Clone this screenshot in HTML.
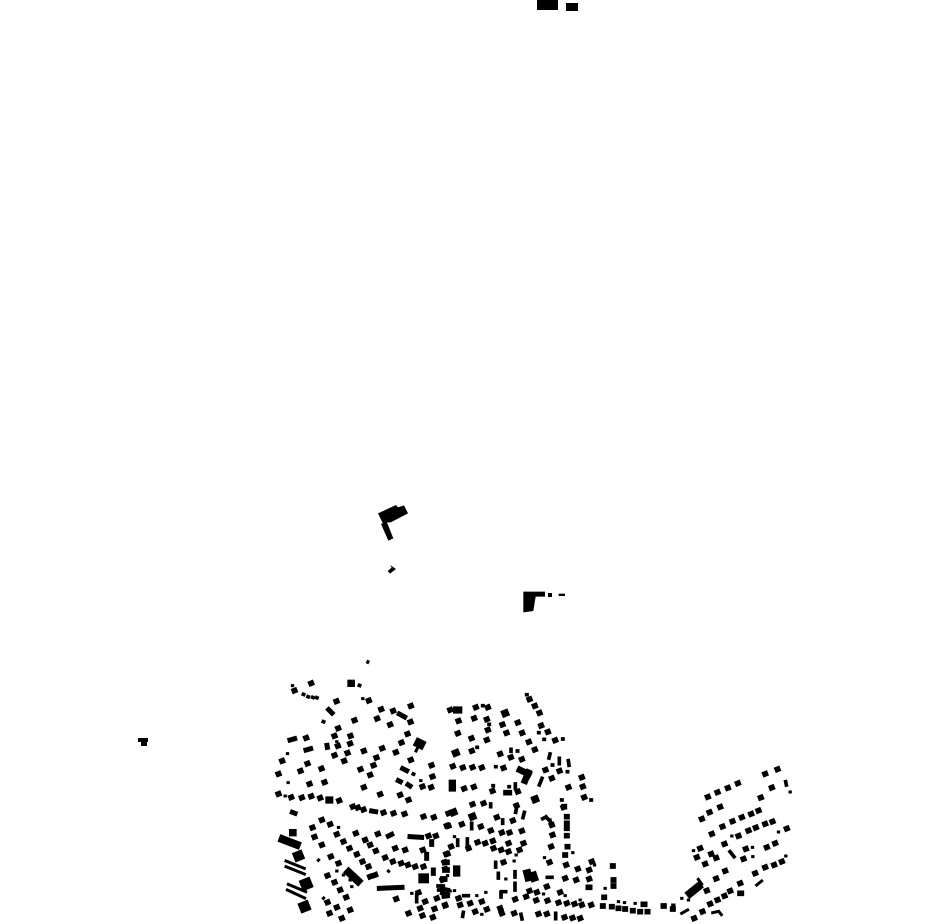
<!DOCTYPE html>
<html><head><meta charset="utf-8"><style>html,body{margin:0;padding:0;background:#fff;width:930px;height:924px;overflow:hidden}svg{display:block}path{fill:none;stroke:#000;stroke-linecap:square}.s{stroke-width:17}.t{stroke-width:9}.b{stroke-width:22}.e{stroke-width:15}.x{stroke-width:24}.l{stroke-width:11}</style></head><body>
<svg width="930" height="924" viewBox="0 0 930 924">
<rect x="537" y="0" width="21" height="10"/><rect x="566" y="3" width="12" height="8"/>
<path d="M138 740h10" style="stroke-width:4;stroke-linecap:butt"/><path d="M141 744h6" style="stroke-width:4;stroke-linecap:butt"/>
<g transform="translate(370 495) scale(.33333)">
<polygon points="24,55 78,30 84,37 102,31 114,55 62,82 52,82 40,88"/>
<polygon points="33,87 50,80 70,130 55,137"/>
<polygon points="53,228 65,218 60,210 78,222 60,236"/>
<polygon points="460,290 525,290 525,305 497,305 490,348 460,352"/>
<rect x="534" y="294" width="12" height="12"/><rect x="566" y="296" width="19" height="7"/>
</g>
<g transform="translate(270 650) scale(.33333)">
<path class="s" d="M123 100l1-.4M199 154l1-.4M253 211l1-.4M204 235l1-.4M193 258l1-.4M241 258l1-.4M240 281l1-.4M203 288l1-.4M232 309l1-.4M193 316l1-.4M222 333l1-.4M108 264l1-.4M36 333l1-.4M25 372l1-.4M91 363l1-.4M112 341l1-.4M154 356l1-.4M118 402l1-.4M163 397l1-.4M73 122l1-.4M296 152l1-.4M333 178l1-.4M369 183l1-.4M421 216l1-.4M321 206l1-.4M360 224l1-.4M422 168l1-.4M412 252l1-.4M394 278l1-.4M422 330l1-.4M484 346l1-.4M487 380l1-.4M457 410l1-.4M483 412l1-.4M336 295l1-.4M319 323l1-.4M310 346l1-.4M300 375l1-.4M281 303l1-.4M377 307l1-.4M271 358l1-.4M281 412l1-.4"/>
<path class="l" d="M100 133l1 .4M114 140l1 .4M128 142l1 .4M140 143l1 .4M160 215l1 .4M430 372l1 .4M268 106l1 .4"/>
<path class="t" d="M67 107h1M293 37l1-2M278 146h1M52 311h1M54 398h1M200 275h1M452 392h1"/>
<path class="b" d="M243 100h1"/>
<path class="e" d="M176 179l10 10M60 270l14-4M171 286l1 6M108 300l14-4M388 192l16 9M398 356l12 6M385 392l6 3M414 404l6 4"/>
<path class="x" d="M447 280l4 2" style="stroke-width:28"/>
<path class="t" d="M442 295l-4 8"/>
</g>
<g transform="translate(270 785) scale(.33333)">
<path class="s" d="M25 27l1-.4M63 37l1-.4M95 38l1-.4M123 34l1-.4M150 39l1-.4M207 47l1-.4M248 65l1-.4M263 68l1-.4M280 74l1-.4M340 83l1-.4M370 85l1-.4M403 87l1-.4M330 28l1-.4M390 30l1-.4M415 45l1-.4M460 95l1-.4M491 97l1-.4M535 85l1-.4M530 122l1-.4M155 105l1-.4M127 128l1-.4M180 118l1-.4M133 156l1-.4M155 180l1-.4M182 215l1-.4M205 235l1-.4M200 148l1-.4M220 170l1-.4M238 190l1-.4M260 208l1-.4M277 230l1-.4M295 245l1-.4M257 145l1-.4M285 165l1-.4M300 180l1-.4M317 198l1-.4M323 147l1-.4M475 153l1-.4M497 153l1-.4M375 190l1-.4M405 195l1-.4M345 218l1-.4M368 230l1-.4M393 235l1-.4M413 240l1-.4M435 245l1-.4M460 245l1-.4M458 195l1-.4M523 232l1-.4M525 252l1-.4M517 285l1-.4M528 207l1-.4M315 270l1-.4M300 275l1-.4M172 272l1-.4M193 292l1-.4M210 315l1-.4M228 337l1-.4M172 352l1-.4M200 367l1-.4M178 385l1-.4M240 375l1-.4M215 400l1-.4M378 342l1-.4M465 350l1-.4M415 385l1-.4M450 370l1-.4M457 392l1-.4M488 397l1-.4M493 372l1-.4M445 323l1-.4M500 340l1-.4M525 362l1-.4"/>
<path class="t" d="M45 33h1M205 127h1M145 226l1-1M160 340l1-1M425 325h1M355 258l1 1M200 258h1M220 270h1M240 285h1M245 305h1"/>
<path class="b" d="M177 45h2M68 143h1"/>
<path class="e" d="M67 82l8 3M420 155l35 2M485 170v8M470 208v12M490 255v10M355 153l10-5M305 78l12 2M328 310l68-3"/>
<path class="x" d="M236 262l28 26"/>
<path class="x" d="M460 280h2" style="stroke-width:30"/>
<path class="l" d="M440 330v20M515 310l20 4M515 325l20 4"/>
<path class="x" d="M38 163l42 16"/>
<path class="x" d="M85 213l1-.4" style="stroke-width:30"/>
<path class="t" d="M48 228l55 22M48 245l55 22M55 298l52 22M52 315l52 24"/>
<path class="x" d="M108 297l1-.4" style="stroke-width:34"/>
<path class="x" d="M103 365l1-.4" style="stroke-width:32"/>
</g>
<g transform="translate(440 690) scale(.33333)">
<path class="s" d="M30 60l1-.4M107 52l1-.4M143 52l1-.4M55 93l1-.4M102 85l1-.4M140 88l1-.4M187 104l1-.4M233 98l1-.4M199 129l1-.4M246 129l1-.4M143 120l1-.4M53 130l1-.4M94 145l1-.4M140 150l1-.4M266 156l1-.4M284 179l1-.4M95 183l1-.4M180 192l1-.4M212 202l1-.4M245 208l1-.4M38 229l1-.4M68 233l1-.4M97 232l1-.4M125 233l1-.4M190 234l1-.4M303 107l1-.4M323 126l1-.4M345 151l1-.4M268 28l1-.4M284 48l1-.4M298 69l1-.4M316 240l1-.4M358 243l1-.4M425 262l1-.4M428 290l1-.4M432 322l1-.4M385 292l1-.4M335 265l1-.4M72 296l1-.4M101 291l1-.4M157 303l1-.4M198 308h10M233 305l1-.4M97 343l1-.4M130 340l1-.4M229 347l1-.4M370 352l1-.4"/>
<path class="l" d="M128 47h1M147 103h1M111 172h1M232 183h1M167 230h1M296 128h1M368 147h1M312 148h1M260 14h1M382 245h1M337 225h1M453 330h1M159 287h1M207 290h1M365 330h1"/>
<path class="l" d="M213 178v6M330 192l-3 12M358 205v16M385 212l2 14M226 282v12M152 342v8"/>
<path class="b" d="M50 60h6M195 70l1-.4M47 189l1-.4M37 280v14M285 328l1-.4"/>
<path class="b" d="M240 240l25 12M265 248l-10 24" style="stroke-width:20"/>
<path class="l" d="M298 285l8-20"/>
</g>
<g transform="translate(440 805) scale(.33333)">
<path class="s" d="M25 63l1-.4M65 58l1-.4M122 65l1-.4M152 77l1-.4M170 37l1-.4M218 47l1-.4M185 83l1-.4M208 83l1-.4M245 78l1-.4M335 60l1-.4M337 90l1-.4M333 125l1-.4M380 35h1M380 55h1M380 70h1M380 92h1M382 125h1M375 150h1M372 5h1M33 125l1-.4M112 112l1-.4M135 115l1-.4M158 108l1-.4M85 130l1-.4M160 130l1-.4M183 135l1-.4M205 115l1-.4M205 140l1-.4M238 135l1-.4M250 115l1-.4M22 147l1-.4M15 172h6M15 195h6M8 222h6M190 172l1-.4M328 172l1-.4M378 180l1-.4M413 192l1-.4M455 170l1-.4M447 195l1-.4M375 220l1-.4M408 225l1-.4M447 222l1-.4M445 247h4M320 245l1-.4M225 283l1-.4M268 258l1-.4M290 262l1-.4M258 275l1-.4M288 286l1-.4M322 287l1-.4M360 262l1-.4M355 293l1-.4M380 295l1-.4M403 297l1-.4M425 300l1-.4M453 300l1-.4M60 300l1-.4M90 295l1-.4M125 290l1-.4M15 300l1-.4M55 280l1-.4M105 320l1-.4M140 313l1-.4M180 310l1-.4M185 325l1-.4M222 325l1-.4M295 327l1-.4M320 327l1-.4M373 337l1-.4M397 339l1-.4M420 340l1-.4"/>
<path class="l" d="M95 55v16M188 45v10M230 6l-3 16M253 22l-4 16M53 105v16M82 102v16M167 172v14M175 205v14M225 200v16M225 235v20M347 325v16M243 328l3 14M70 322l-2 12M185 260h12M183 262v14M322 217h14M85 272h-14M10 243h-16M10 255h-14M318 36l10 10M330 46l3 14M318 36l-10 5"/>
<path class="t" d="M398 143h1M43 95h1M22 212h1M197 222h1M228 150h1M222 168h1M313 158h1M463 180h1M375 272h1M420 285h1M137 262h1M110 272h1M125 328h1M310 267h1M30 258h1M43 257h1"/>
<path class="b" d="M40 22l1-.4M97 35l1-.4M50 192v12M15 270l3-.4"/>
<path class="x" d="M262 205l3 12M280 212l2 6"/>
</g>
<g transform="translate(590 760) scale(.33333)">
<path class="s" d="M353 111l1-.4M382 97l1-.4M413 84l1-.4M443 70l1-.4M525 42l1-.4M562 28l1-.4M545 83l1-.4M512 113l1-.4M358 157l1-.4M390 141l1-.4M335 177l1-.4M365 222l1-.4M397 200l1-.4M427 184l1-.4M455 172l1-.4M483 162l1-.4M505 152l1-.4M445 228l1-.4M475 212l1-.4M497 203l1-.4M525 192l1-.4M547 185l1-.4M590 206l1-.4M330 265l1-.4M363 282l1-.4M320 292l1-.4M378 294l1-.4M345 312l1-.4M403 252l1-.4M467 267l1-.4M530 262l1-.4M555 250l1-.4M460 297l1-.4M495 340l1-.4M525 322l1-.4M552 315l1-.4M575 305l1-.4M405 333l1-.4M378 356l1-.4M350 392l1-.4M450 370l1-.4M420 393l1-.4M403 408l1-.4M382 420l1-.4M360 432l1-.4M337 455l1-.4M312 475l1-.4M450 400h4M68 318h1M70 360h1M70 378h1M42 412h1M38 438h1M65 440h1M85 445h1M105 447h1M128 452h1M150 455h1M172 455h1M160 433h4M220 438h2M248 447h1"/>
<path class="t" d="M600 96h1M425 228h1M565 216h1M310 272h1M487 262h1M488 290h1M587 288h1M85 425h1M103 428h1M135 430h1M45 385h1M295 420h1M275 415h1M248 435h4"/>
<path class="l" d="M587 65l2 10M420 275l12 15"/>
<path class="t" d="M325 358l10 14M500 375l15-12M275 460l18-10M368 458l18-4l8 10"/>
<path class="x" d="M300 400l25-20"/>
</g>
</svg>
</body></html>
